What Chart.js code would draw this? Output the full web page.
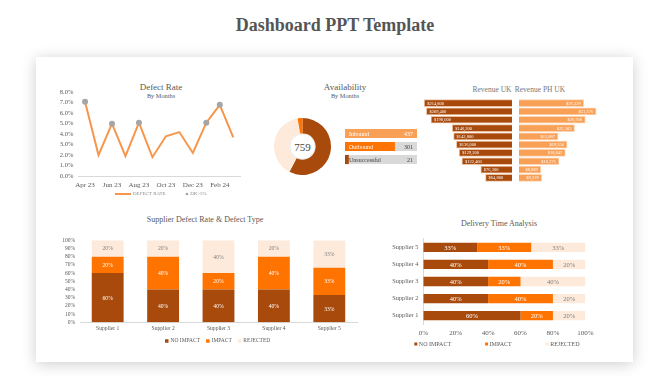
<!DOCTYPE html>
<html><head><meta charset="utf-8">
<script src="https://cdn.jsdelivr.net/npm/chart.js@4.4.1/dist/chart.umd.min.js"></script>
<style>
body{margin:0;width:670px;height:376px;background:#fff;position:relative;overflow:hidden;font-family:'Liberation Serif',serif;}
#title{position:absolute;left:0;top:13px;width:670px;text-align:center;font-size:18px;font-weight:bold;color:#555;line-height:24px;}
#card{position:absolute;left:36px;top:57px;width:597px;height:305px;background:#fff;box-shadow:0 2px 14px rgba(0,0,0,0.2);}
canvas{position:absolute;}
.t{position:absolute;transform:translate(-50%,-50%);color:#595959;white-space:nowrap;line-height:1;}
</style></head><body>
<div id="title">Dashboard PPT Template</div>
<div id="card"></div>

<div class="t" style="left:161px;top:87px;font-size:9px;">Defect Rate</div>
<div class="t" style="left:161px;top:95.5px;font-size:6.3px;">By Months</div>
<div class="t" style="left:345px;top:87px;font-size:9px;">Availability</div>
<div class="t" style="left:345px;top:95.5px;font-size:6.3px;">By Months</div>
<div class="t" style="left:492px;top:90px;font-size:7.5px;color:#777;">Revenue UK</div>
<div class="t" style="left:540px;top:90px;font-size:7.5px;color:#777;">Revenue PH UK</div>
<div class="t" style="left:205px;top:220px;font-size:8px;">Supplier Defect Rate &amp; Defect Type</div>
<div class="t" style="left:499px;top:224px;font-size:8px;">Delivery Time Analysis</div>
<div class="t" id="total" style="left:302.5px;top:147px;font-size:11px;color:#444;">759</div>

<canvas id="c1" width="200" height="125" style="left:50px;top:80px"></canvas>
<canvas id="c2" width="57" height="57" style="left:274px;top:118px"></canvas>
<canvas id="c2b" width="72" height="39" style="left:345px;top:127px"></canvas>
<canvas id="c3a" width="92" height="83" style="left:420px;top:99px"></canvas>
<canvas id="c3b" width="86" height="83" style="left:519px;top:99px"></canvas>
<canvas id="c4" width="305" height="118" style="left:55px;top:232px"></canvas>
<canvas id="c5" width="213" height="125" style="left:385px;top:230px"></canvas>

<script>
// ---------- DATA ----------
const months = ['Apr 23','May 23','Jun 23','Jul 23','Aug 23','Sep 23','Oct 23','Nov 23','Dec 23','Jan 24','Feb 24','Mar 24'];
const defectRate = [7.1, 2.0, 5.0, 1.9, 5.1, 1.8, 3.8, 4.2, 2.2, 5.1, 6.8, 3.7];
const defectOver5 = [7.1, null, 5.0, null, 5.1, null, null, null, null, 5.1, 6.8, null];
const defectTicks = [0,1,2,3,4,5,6,7,8];

const availLabels = ['Inbound','Outbound','Unsuccessful'];
const availValues = [437, 301, 21];
const availTotal = 759;

const revenueRows = ['1','2','3','4','5','6','7','8','9','10'];
const revenueUK = [214800, 209400, 198000, 146200, 142800, 136000, 129200, 122400, 76300, 64800];
const revenuePHUK = [26329, 31376, 26958, 22583, 15887, 19550, 18842, 16271, 8889, 9229];

const suppliers = ['Supplier 1','Supplier 2','Supplier 3','Supplier 4','Supplier 5'];
const defectNoImpact = [60, 40, 40, 40, 33.3];
const defectImpact   = [20, 40, 20, 40, 33.3];
const defectRejected = [20, 20, 40, 20, 33.3];
const deliveryNoImpact = [60, 40, 40, 40, 33.3];
const deliveryImpact   = [20, 40, 20, 40, 33.3];
const deliveryRejected = [20, 20, 40, 20, 33.4];
const pctTicks = [0,10,20,30,40,50,60,70,80,90,100];

// ---------- STYLE ----------
const FAM = "'Liberation Serif', serif";
const DARK = '#A84A0C', ORANGE = '#FF7300', PEACH = '#FDEADB', LIGHT = '#F9A057', LINE = '#F7964A', GREYDOT = '#A6A6A6';
Chart.defaults.font.family = FAM;
Chart.defaults.color = '#595959';
Chart.defaults.animation = false;
Chart.defaults.responsive = false;
Chart.defaults.plugins.tooltip.enabled = false;
Chart.defaults.plugins.legend.display = false;

const miniLegend = {
  id: 'miniLegend',
  afterDraw(chart, args, o) {
    if (!o || o.y == null) return;
    const ctx = chart.ctx; ctx.save();
    ctx.font = o.font; ctx.textBaseline = 'middle'; ctx.textAlign = 'left';
    let x = o.x; const y = o.y;
    chart.data.datasets.forEach((ds, di) => {
      const kind = (o.kinds && o.kinds[di]) || 'box';
      if (kind === 'line') {
        ctx.strokeStyle = ds.borderColor; ctx.lineWidth = 2;
        ctx.beginPath(); ctx.moveTo(x, y); ctx.lineTo(x + o.lineW, y); ctx.stroke();
        x += o.lineW + o.textGap;
      } else if (kind === 'dot') {
        ctx.fillStyle = ds.pointBackgroundColor;
        ctx.beginPath(); ctx.arc(x + 1.3, y, 1.3, 0, Math.PI * 2); ctx.fill();
        x += 2.6 + o.textGap;
      } else {
        ctx.fillStyle = ds.backgroundColor;
        ctx.fillRect(x, y - o.box / 2, o.box, o.box);
        x += o.box + o.textGap;
      }
      ctx.fillStyle = o.color;
      ctx.fillText(ds.label, x, y);
      x += ctx.measureText(ds.label).width + o.itemGap;
    });
    ctx.restore();
  }
};

const stackLabels = {
  id: 'stackLabels',
  afterDatasetsDraw(chart, args, o) {
    if (!o || !o.font) return;
    const ctx = chart.ctx; ctx.save();
    ctx.font = o.font; ctx.textAlign = 'center'; ctx.textBaseline = 'middle';
    chart.data.datasets.forEach((ds, di) => {
      chart.getDatasetMeta(di).data.forEach((el, i) => {
        const c = el.getCenterPoint();
        ctx.fillStyle = o.colors[di];
        ctx.fillText(Math.round(ds.data[i]) + '%', c.x, c.y + 0.5);
      });
    });
    ctx.restore();
  }
};

// ---------- 1. Defect rate line ----------
new Chart(document.getElementById('c1'), {
  type: 'line',
  data: { labels: months, datasets: [
    { label: 'DEFECT RATE', data: defectRate, borderColor: LINE, backgroundColor: LINE, borderWidth: 2, pointRadius: 0, tension: 0, order: 1 },
    { label: 'DR>5%', data: defectOver5, showLine: false, pointRadius: 3, pointBackgroundColor: GREYDOT, pointBorderWidth: 0, borderColor: GREYDOT, backgroundColor: GREYDOT, order: 0 }
  ]},
  options: {
    layout: { padding: { top: 12.3, right: 10, left: 0, bottom: 15 } },
    scales: {
      x: { offset: true, grid: { display: false, drawTicks: false }, border: { color: '#D9D9D9' },
           afterFit: s => { s.height = 14; },
           ticks: { autoSkip: false, maxRotation: 0, padding: 4.5, color: '#595959', font: { size: 7 },
                    callback: (v, i) => (i % 2 === 0 ? months[i] : '') } },
      y: { min: 0, max: 8, grid: { display: false, drawTicks: false }, border: { display: false },
           afterFit: s => { s.width = 28.3; },
           afterBuildTicks: s => { s.ticks = defectTicks.map(v => ({ value: v })); },
           ticks: { autoSkip: false, padding: 5, color: '#595959', font: { size: 6.5 }, callback: v => v.toFixed(1) + '%' } }
    },
    plugins: { miniLegend: { x: 65, y: 114, font: '5px ' + FAM, color: '#888', kinds: ['line','dot'], lineW: 16, textGap: 2, itemGap: 20, box: 3 } }
  },
  plugins: [miniLegend]
});

// ---------- 2. Availability doughnut ----------
new Chart(document.getElementById('c2'), {
  type: 'doughnut',
  data: { labels: availLabels, datasets: [{ data: availValues, backgroundColor: [DARK, PEACH, ORANGE], borderWidth: 0 }] },
  options: { cutout: '46%', layout: { padding: 0 } },
  plugins: [{
    id: 'hole',
    afterDatasetsDraw(chart) {
      const arc = chart.getDatasetMeta(0).data[0];
      const ctx = chart.ctx; ctx.save();
      ctx.strokeStyle = 'rgba(0,0,0,0.08)'; ctx.lineWidth = 1;
      ctx.beginPath(); ctx.arc(arc.x, arc.y, arc.innerRadius - 0.5, 0, Math.PI * 2); ctx.stroke();
      ctx.restore();
    }
  }]
});

// ---------- 2b. Availability bars ----------
const availMax = Math.max(...availValues);
new Chart(document.getElementById('c2b'), {
  type: 'bar',
  data: { labels: availLabels, datasets: [
    { label: 'value', data: availValues, backgroundColor: [LIGHT, ORANGE, DARK], barThickness: 8.5, grouped: false, order: 0 },
    { label: 'track', data: availLabels.map(() => availMax), backgroundColor: '#D9D9D9', barThickness: 8.5, grouped: false, order: 1 }
  ]},
  options: {
    indexAxis: 'y', layout: { padding: 0 },
    scales: { x: { display: false, min: 0, max: availMax }, y: { display: false } }
  },
  plugins: [{
    id: 'availText',
    afterDatasetsDraw(chart) {
      const ctx = chart.ctx; const xs = chart.scales.x; ctx.save();
      ctx.font = '6px ' + FAM; ctx.textBaseline = 'middle';
      const nameCol = ['#fff', '#fff', '#404040'], valCol = ['#fff', '#404040', '#404040'];
      chart.getDatasetMeta(0).data.forEach((el, i) => {
        ctx.textAlign = 'left'; ctx.fillStyle = nameCol[i];
        ctx.fillText(availLabels[i], xs.getPixelForValue(0) + 4, el.y + 0.5);
        ctx.textAlign = 'right'; ctx.fillStyle = valCol[i];
        ctx.fillText(String(availValues[i]), xs.getPixelForValue(availMax) - 4, el.y + 0.5);
      });
      ctx.restore();
    }
  }]
});

// ---------- 3. Revenue butterfly ----------
const money = v => '$' + v.toLocaleString('en-US');
function revChart(id, values, color, border, reverse, max) {
  new Chart(document.getElementById(id), {
    type: 'bar',
    data: { labels: revenueRows, datasets: [{ label: id, data: values, backgroundColor: color, borderColor: border, borderWidth: 1, barThickness: 7 }] },
    options: {
      indexAxis: 'y', layout: { padding: 0 },
      scales: { x: { display: false, min: 0, max: max, reverse: reverse }, y: { display: false } }
    },
    plugins: [{
      id: 'revText',
      afterDatasetsDraw(chart) {
        const ctx = chart.ctx; ctx.save();
        ctx.font = '4.5px ' + FAM; ctx.textBaseline = 'middle'; ctx.fillStyle = '#fff';
        chart.getDatasetMeta(0).data.forEach((el, i) => {
          if (reverse) { ctx.textAlign = 'left'; ctx.fillText(money(values[i]), el.x + 3, el.y + 0.3); }
          else { ctx.textAlign = 'right'; ctx.fillText(money(values[i]), el.x - 3, el.y + 0.3); }
        });
        ctx.restore();
      }
    }]
  });
}
revChart('c3a', revenueUK, DARK, '#EBC3A4', true, 225000);
revChart('c3b', revenuePHUK, LIGHT, '#FCD5B4', false, 35000);

// ---------- 4. Supplier defect stacked columns ----------
new Chart(document.getElementById('c4'), {
  type: 'bar',
  data: { labels: suppliers, datasets: [
    { label: 'NO IMPACT', data: defectNoImpact, backgroundColor: DARK },
    { label: 'IMPACT', data: defectImpact, backgroundColor: ORANGE },
    { label: 'REJECTED', data: defectRejected, backgroundColor: PEACH }
  ]},
  options: {
    layout: { padding: { top: 6.7, right: 3, left: 0, bottom: 15.7 } },
    datasets: { bar: { categoryPercentage: 1, barPercentage: 0.575 } },
    scales: {
      x: { stacked: true, grid: { display: false, drawTicks: false }, border: { color: '#D9D9D9' },
           afterFit: s => { s.height = 12; },
           ticks: { padding: 3.2, font: { size: 5.6 }, color: '#595959' } },
      y: { stacked: true, min: 0, max: 100, grid: { display: false, drawTicks: false }, border: { display: false },
           afterFit: s => { s.width = 25; },
           afterBuildTicks: s => { s.ticks = pctTicks.map(v => ({ value: v })); },
           ticks: { autoSkip: false, padding: 5, font: { size: 5.5 }, color: '#595959', callback: v => v + '%' } }
    },
    plugins: {
      stackLabels: { font: '5.6px ' + FAM, colors: ['#fff', '#fff', '#7F7F7F'] },
      miniLegend: { x: 110, y: 109, font: '5.5px ' + FAM, color: '#595959', box: 3.5, textGap: 2, itemGap: 6 }
    }
  },
  plugins: [stackLabels, miniLegend]
});

// ---------- 5. Delivery time stacked bars ----------
new Chart(document.getElementById('c5'), {
  type: 'bar',
  data: { labels: suppliers, datasets: [
    { label: 'NO IMPACT', data: deliveryNoImpact, backgroundColor: DARK },
    { label: 'IMPACT', data: deliveryImpact, backgroundColor: ORANGE },
    { label: 'REJECTED', data: deliveryRejected, backgroundColor: PEACH }
  ]},
  options: {
    indexAxis: 'y',
    layout: { padding: { top: 5.3, right: 9, left: 0, bottom: 16.8 } },
    datasets: { bar: { categoryPercentage: 1, barPercentage: 0.545 } },
    scales: {
      x: { stacked: true, min: 0, max: 100, grid: { display: false, drawTicks: false }, border: { display: false },
           afterFit: s => { s.height = 14; },
           ticks: { stepSize: 20, padding: 4.5, font: { size: 7 }, color: '#595959', callback: v => v + '%' } },
      y: { stacked: true, reverse: true, grid: { display: false, drawTicks: false }, border: { color: '#D9D9D9' },
           afterFit: s => { s.width = 38.3; },
           ticks: { padding: 5, font: { size: 6.3 }, color: '#595959' } }
    },
    plugins: {
      stackLabels: { font: '6.5px ' + FAM, colors: ['#fff', '#fff', '#7F7F7F'] },
      miniLegend: { x: 29.3, y: 114, font: '6px ' + FAM, color: '#595959', box: 3, textGap: 1.5, itemGap: 34 }
    }
  },
  plugins: [stackLabels, miniLegend]
});
</script>
</body></html>
